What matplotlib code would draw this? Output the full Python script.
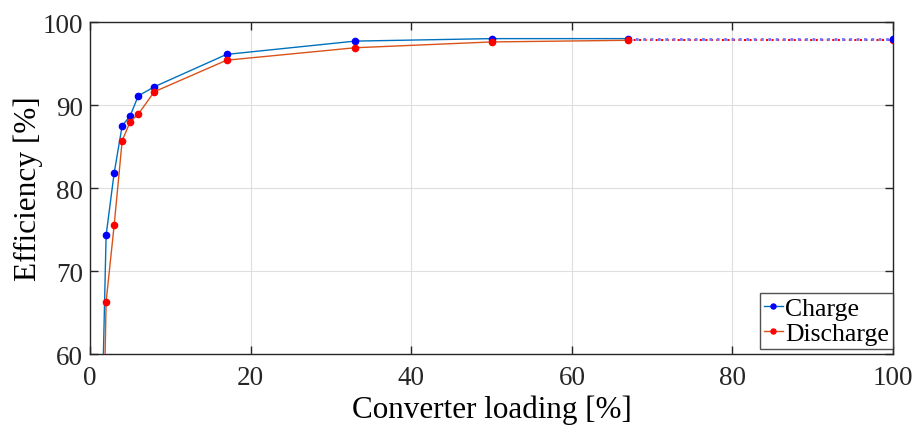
import matplotlib
matplotlib.use("Agg")
import matplotlib.pyplot as plt

loading = [1, 2, 3, 4, 5, 6, 8, 17, 33, 50, 67]
charge = [32.0, 74.3, 81.8, 87.5, 88.7, 91.1, 92.2, 96.1, 97.7, 98.0, 98.0]
discharge = [16.0, 66.3, 75.5, 85.7, 88.0, 88.9, 91.6, 95.4, 96.9, 97.6, 97.8]
ext_x = [67, 100]
charge_ext = [98.0, 98.0]
discharge_ext = [97.8, 97.8]
xticks = [0, 20, 40, 60, 80, 100]
yticks = [60, 70, 80, 90, 100]

plt.rcParams['font.family'] = ['Liberation Serif', 'DejaVu Serif']
plt.rcParams['mathtext.fontset'] = 'stix'

fig = plt.figure(figsize=(9.16, 4.31), dpi=100)
ax = fig.add_axes([0.0983, 0.176, 0.8767, 0.7706])

c_line = (0.0, 0.447, 0.741)
d_line = (0.85, 0.325, 0.098)

ax.plot(ext_x, discharge_ext, ':', color='red', lw=1.5, zorder=3)
ax.plot(ext_x, charge_ext, ':', color=(0.45, 0.45, 1.0), lw=2.0, zorder=3)
ax.plot(ext_x[1:], discharge_ext[1:], 'o', color='red', ms=4.5, zorder=4)
ax.plot(ext_x[1:], charge_ext[1:], 'o', color='blue', ms=4.5, zorder=4)

ax.plot(loading, charge, '-', color=c_line, lw=1.0, marker='o', ms=4.5,
        mfc='blue', mec='blue', label='Charge', zorder=5)
ax.plot(loading, discharge, '-', color=d_line, lw=1.0, marker='o', ms=4.5,
        mfc='red', mec='red', label='Discharge', zorder=5)

ax.set_xlim(0, 100)
ax.set_ylim(60, 100)
ax.set_xticks(xticks)
ax.set_yticks(yticks)
ax.grid(True, color=(0.87, 0.87, 0.87), lw=0.8)
ax.set_axisbelow(True)
ax.tick_params(direction='in', top=True, right=True, labelsize=19.5,
               length=6, width=1, colors=(0.15, 0.15, 0.15))
ax.tick_params(axis='x', pad=8)
ax.tick_params(axis='y', pad=5)
for s in ax.spines.values():
    s.set_color((0.15, 0.15, 0.15))
    s.set_linewidth(1.0)

ax.set_xlabel('Converter loading [%]', fontsize=22.4, labelpad=3)
ax.set_ylabel('Efficiency [%]', fontsize=22.5, labelpad=0)

leg = ax.legend(loc='lower right', bbox_to_anchor=(1.0, 0.015), fontsize=18.5,
                frameon=True, fancybox=False,
                edgecolor=(0.15, 0.15, 0.15), borderpad=0.15, handlelength=0.75,
                handletextpad=0.1, labelspacing=0.1, borderaxespad=0.0,
                markerscale=0.8)
leg.get_frame().set_linewidth(1.0)

fig.savefig('out.png', dpi=100)
